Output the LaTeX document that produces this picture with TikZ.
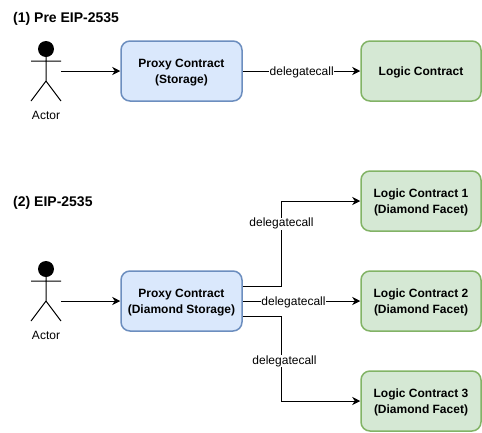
\documentclass[tikz,border=0pt]{standalone}
\usepackage{fontspec}
\setmainfont{Liberation Sans}
\usetikzlibrary{arrows.meta}
\definecolor{bfill}{HTML}{DAE8FC}
\definecolor{bline}{HTML}{6C8EBF}
\definecolor{gfill}{HTML}{D5E8D4}
\definecolor{gline}{HTML}{82B366}
\newcommand{\dwn}{\rule{0pt}{12pt}}
\tikzset{
  x=1pt,y=-1pt,
  box/.style={draw,line width=1.5pt,rounded corners=9pt,minimum width=120pt,minimum height=60pt,align=center,inner sep=0pt,font=\fontsize{12}{16}\selectfont\bfseries},
  proxybox/.style={box,fill=bfill,draw=bline},
  logicbox/.style={box,fill=gfill,draw=gline},
  conn/.style={draw=black,line width=1pt,-{Stealth[length=8pt,width=8pt,inset=2.5pt]}},
  lab/.style={fill=white,inner sep=0.5pt,font=\fontsize{12}{14}\selectfont},
  titl/.style={anchor=west,inner sep=0pt,font=\fontsize{14}{16}\selectfont\bfseries},
  limb/.style={draw=black,line width=1pt},
  actlab/.style={inner sep=0pt,font=\fontsize{12}{14}\selectfont}
}
\begin{document}
\begin{tikzpicture}
\useasboundingbox (0,0) rectangle (482,432);
\node[titl] (t1) at (13,18.6) {(1) Pre EIP-2535};
\node[titl] (t2) at (13,202.6) {(2) EIP-2535};
% actor 1
\fill[black] (46,49) circle (8);
\draw[limb] (46,57) -- (46,81) (31,61) -- (61,61) (31,101) -- (46,81) -- (61,101);
\node[actlab] (a1) at (46,115) {Actor};
\coordinate (a1r) at (61,71);
% actor 2
\fill[black] (46,269) circle (8);
\draw[limb] (46,277) -- (46,301) (31,281) -- (61,281) (31,321) -- (46,301) -- (61,321);
\node[actlab] (a2) at (46,335) {Actor};
\coordinate (a2r) at (61,301);
% boxes
\node[proxybox,minimum width=121pt] (p1) at (181.5,71) {\dwn Proxy Contract\\(Storage)};
\node[logicbox] (l0) at (421,71) {\dwn Logic Contract};
\node[proxybox,minimum width=121pt] (p2) at (181.5,301) {\dwn Proxy Contract\\(Diamond Storage)};
\node[logicbox] (l1) at (421,201) {\dwn Logic Contract 1\\(Diamond Facet)};
\node[logicbox] (l2) at (421,301) {\dwn Logic Contract 2\\(Diamond Facet)};
\node[logicbox] (l3) at (421,401) {\dwn Logic Contract 3\\(Diamond Facet)};
% connectors
\draw[conn] (a1r) -- (p1);
\draw[conn] (a2r) -- (p2);
\draw[conn] (p1) -- (l0);
\coordinate (p2u) at ([yshift=15pt]p2.east);
\coordinate (p2d) at ([yshift=-15pt]p2.east);
\coordinate (k1) at (281,286);
\coordinate (k3) at (281,316);
\draw[conn] (p2u) -- (k1) -- (k1 |- l1) -- (l1);
\draw[conn] (p2d) -- (k3) -- (k3 |- l3) -- (l3);
\draw[conn] (p2) -- (l2);
\node[lab] (c0) at (301.7,72.6) {delegatecall};
\node[lab] (c1) at (281.5,223.6) {delegatecall};
\node[lab] (c2) at (293.5,302.8) {delegatecall};
\node[lab] (c3) at (284.5,361) {delegatecall};
\end{tikzpicture}
\end{document}
